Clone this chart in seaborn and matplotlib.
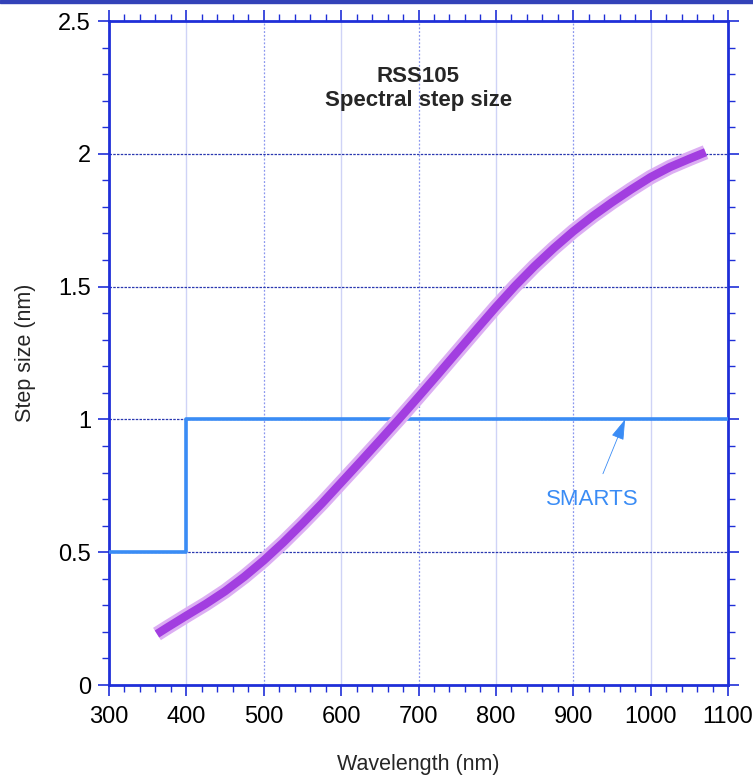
import numpy as np
import pandas as pd
import matplotlib
matplotlib.use("Agg")
import matplotlib.pyplot as plt
from matplotlib.patches import Rectangle
from matplotlib.ticker import MultipleLocator
import seaborn as sns

# RSS105 spectral step size vs wavelength
wavelength = [362, 375, 400, 425, 450, 475, 500, 525, 550, 575, 600, 625, 650, 675,
              700, 725, 750, 775, 800, 825, 850, 875, 900, 925, 950, 975, 1000,
              1025, 1050, 1071]
step_size = [0.192, 0.216, 0.261, 0.305, 0.353, 0.408, 0.469, 0.536, 0.608, 0.683,
             0.762, 0.841, 0.921, 1.002, 1.085, 1.169, 1.254, 1.339, 1.423, 1.503,
             1.577, 1.645, 1.708, 1.765, 1.817, 1.866, 1.912, 1.950, 1.981, 2.006]

# SMARTS step size (step function)
smarts_wavelength = [300, 400, 400, 1100]
smarts_step = [0.5, 0.5, 1.0, 1.0]

x_ticks = [300, 400, 500, 600, 700, 800, 900, 1000, 1100]
y_ticks = [0, 0.5, 1, 1.5, 2, 2.5]
y_tick_labels = ["0", "0.5", "1", "1.5", "2", "2.5"]

sns.set_theme(style="white")
plt.rcParams["font.family"] = ["Liberation Sans", "DejaVu Sans"]

spine_blue = "#1f2fd8"
light_tick = "#a9b1f2"
fig = plt.figure(figsize=(7.53, 7.75), dpi=100)
ax = fig.add_axes([109 / 753, 90 / 775, 619 / 753, 664 / 775])

# top banner
fig.patches.append(Rectangle((0, 1 - 3 / 775), 1, 3 / 775, transform=fig.transFigure,
                             color="#3342b8", zorder=5))

# grid lines
for i, xv in enumerate(x_ticks[1:-1]):
    if i % 2 == 0:
        ax.axvline(xv, color="#cfd3f6", lw=1.0, zorder=0)
    else:
        ax.axvline(xv, color="#8a97ee", lw=0.9, ls=(0, (1.5, 1.5)), zorder=0)
for yv in y_ticks[1:-1]:
    ax.axhline(yv, color="#2a38b0", lw=0.9, ls=(0, (2, 1)), zorder=0)

df = pd.DataFrame({"wavelength": wavelength, "step": step_size})
sm = pd.DataFrame({"wavelength": smarts_wavelength, "step": smarts_step})

sns.lineplot(data=sm, x="wavelength", y="step", ax=ax, color="#3a8cf5", lw=2.6,
             sort=False, estimator=None, zorder=3)
sns.lineplot(data=df, x="wavelength", y="step", ax=ax, color="#dcaef3", lw=10.5,
             estimator=None, zorder=4, solid_capstyle="butt")
sns.lineplot(data=df, x="wavelength", y="step", ax=ax, color="#a23ee0", lw=6,
             estimator=None, zorder=5, solid_capstyle="butt")

ax.set_xlim(300, 1100)
ax.set_ylim(0, 2.5)
ax.set_xticks(x_ticks)
ax.set_yticks(y_ticks)
ax.set_yticklabels(y_tick_labels)
ax.xaxis.set_minor_locator(MultipleLocator(20))
ax.yaxis.set_minor_locator(MultipleLocator(0.1))

ax.tick_params(axis="both", which="both", direction="out", colors=spine_blue,
               labelcolor="black", labelsize=17)
ax.tick_params(axis="both", which="major", length=8, width=1.2, pad=5)
ax.tick_params(axis="both", which="minor", length=5, width=1.0)
ax.tick_params(axis="x", which="both", top=True, bottom=True, labeltop=False)
ax.tick_params(axis="y", which="both", left=True, right=True, labelright=False)
ax.tick_params(axis="x", which="major", pad=7)

# bottom ticks are drawn lighter than the top ones
for t in ax.xaxis.get_major_ticks() + ax.xaxis.get_minor_ticks():
    t.tick1line.set_color(light_tick)

for s in ax.spines.values():
    s.set_visible(True)
    s.set_color(spine_blue)
    s.set_linewidth(2)

ax.set_xlabel("Wavelength (nm)", fontsize=15.5, labelpad=19)
ax.set_ylabel("Step size (nm)", fontsize=15.5, labelpad=16)

ax.text(700, 2.246, "RSS105\nSpectral step size", ha="center", va="center",
        fontsize=16, fontweight="bold", linespacing=1.2)

ax.annotate("SMARTS", xy=(967, 1.0), xytext=(925, 0.70), ha="center", va="center",
            fontsize=16, color="#3a8cf5",
            arrowprops=dict(arrowstyle="-|>,head_length=0.8,head_width=0.25",
                            color="#3a8cf5", lw=0.6, shrinkA=9, shrinkB=0))

fig.savefig("out.png", dpi=100)
